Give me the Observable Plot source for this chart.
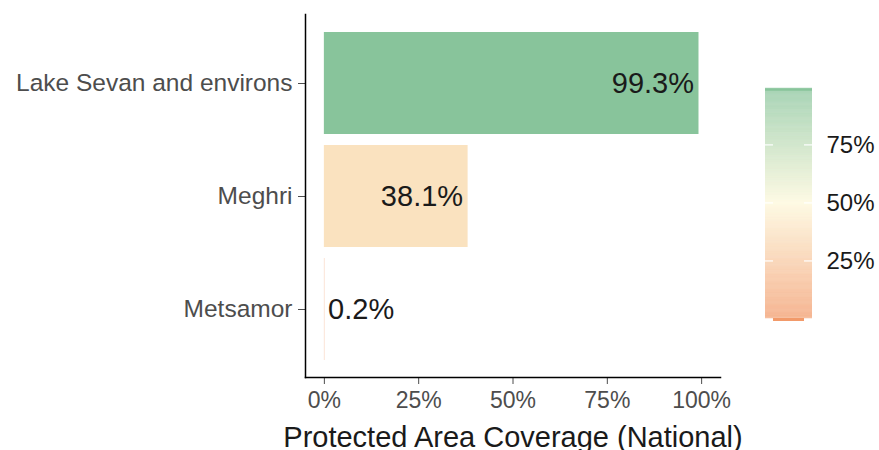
<!DOCTYPE html>
<html>
<head>
<meta charset="utf-8">
<script src="https://cdn.jsdelivr.net/npm/d3@7"></script>
<script src="https://cdn.jsdelivr.net/npm/@observablehq/plot@0.6"></script>
<style>
  html, body { margin: 0; padding: 0; background: #fff; }
  #wrap { position: relative; width: 879px; height: 450px; font-family: "Liberation Sans", Arial, sans-serif; }
  #wrap svg { position: absolute; top: 0; }
</style>
</head>
<body>
<div id="wrap"></div>
<script>
const regions = ["Lake Sevan and environs", "Meghri", "Metsamor"];
const coverage = [0.993, 0.381, 0.002];
const xTicks = [0, 0.25, 0.5, 0.75, 1];
const legendTicks = [0.25, 0.5, 0.75];
const xTitle = "Protected Area Coverage (National)";

const rows = regions.map((r, i) => ({region: r, value: coverage[i]}));
const pct = d3.format(".1%");
const colorScale = {type: "linear", domain: [0, 0.5, 1], range: ["#f29a6a", "#fdf8da", "#86c39a"], interpolate: "rgb"};

const main = Plot.plot({
  width: 879,
  height: 450,
  marginLeft: 305,
  marginRight: 159,
  marginTop: 14,
  marginBottom: 73,
  style: {fontFamily: "Liberation Sans, Arial, sans-serif", background: "transparent"},
  x: {domain: [-0.05, 1.05]},
  y: {domain: regions, paddingInner: 0.1, paddingOuter: 0.15},
  color: colorScale,
  marks: [
    Plot.barX(rows, {x: "value", y: "region", fill: "value", fillOpacity: d => d.value < 0.01 ? 0.35 : 1}),
    Plot.text(rows.filter(d => d.value >= 0.1), {x: "value", y: "region", text: d => pct(d.value), textAnchor: "end", dx: -5, fontSize: 29, fill: "#1a1a1a"}),
    Plot.text(rows.filter(d => d.value < 0.1), {x: "value", y: "region", text: d => pct(d.value), textAnchor: "start", dx: 3, fontSize: 29, fill: "#1a1a1a"}),
    Plot.axisY({tickSize: 7, tickPadding: 6, fontSize: 24.5, color: "#4d4d4d", label: null}),
    Plot.axisX({ticks: xTicks, tickFormat: d3.format(".0%"), tickSize: 7, tickPadding: 7, fontSize: 23, color: "#4d4d4d", label: null}),
    Plot.frame({anchor: "left", stroke: "#000", strokeWidth: 1.5}),
    Plot.frame({anchor: "bottom", stroke: "#000", strokeWidth: 1.5}),
    Plot.text([xTitle], {frameAnchor: "bottom", dy: 60, fontSize: 29, fill: "#1a1a1a", lineAnchor: "middle"})
  ]
});
main.style.left = "0px";
document.getElementById("wrap").appendChild(main);

// vertical colour bar legend, drawn with the same colour scale
const lo = d3.min(coverage), hi = d3.max(coverage);
const steps = d3.range(0, 200).map(i => {
  const a = lo + (hi - lo) * i / 200, b = lo + (hi - lo) * (i + 1) / 200;
  return {a, b, m: (a + b) / 2};
});
const legend = Plot.plot({
  width: 129,
  height: 450,
  marginLeft: 15,
  marginRight: 67,
  marginTop: 88,
  marginBottom: 132,
  style: {fontFamily: "Liberation Sans, Arial, sans-serif", background: "transparent"},
  x: {domain: [0, 1], axis: null},
  y: {domain: [lo, hi]},
  color: colorScale,
  marks: [
    Plot.rect(steps, {x1: 0, x2: 1, y1: "a", y2: "b", fill: "m", fillOpacity: 0.6, insetTop: -0.3, insetBottom: -0.3}),
    Plot.ruleY([hi], {x1: 0, x2: 1, stroke: d => d, strokeWidth: 2.5, dy: 1}),
    Plot.ruleY([lo], {x1: 0.17, x2: 0.83, stroke: d => d, strokeWidth: 3, dy: 1}),
    Plot.ruleY(legendTicks, {x1: 0, x2: 0.17, stroke: "#fff", strokeWidth: 1.2}),
    Plot.ruleY(legendTicks, {x1: 0.83, x2: 1, stroke: "#fff", strokeWidth: 1.2}),
    Plot.axisY({anchor: "right", ticks: legendTicks, tickFormat: d3.format(".0%"), tickSize: 0, tickPadding: 14, fontSize: 24, color: "#1a1a1a", label: null})
  ]
});
legend.style.left = "750px";
document.getElementById("wrap").appendChild(legend);
</script>
</body>
</html>
